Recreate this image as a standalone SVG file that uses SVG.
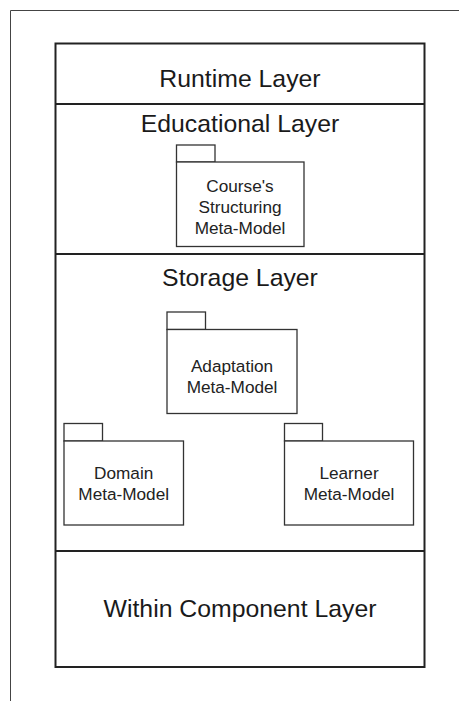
<svg xmlns="http://www.w3.org/2000/svg" width="459" height="701" viewBox="0 0 459 701">
<style>
.frame{fill:none;stroke:#444;stroke-width:1}
.layer{fill:none;stroke:#222;stroke-width:2}
.pkg{fill:#fff;stroke:#333;stroke-width:1.3}
.title{font-family:"Liberation Sans",Arial,sans-serif;font-size:24.8px;fill:#1a1a1a;text-anchor:middle}
.lbl{font-family:"Liberation Sans",Arial,sans-serif;font-size:17.2px;fill:#222;text-anchor:middle}
</style>
<rect width="459" height="701" fill="#fff"/>
<path class="frame" d="M10.5,701 V10.5 H459"/>
<g id="layers">
<rect class="layer" x="55.5" y="43.5" width="369" height="623.5"/>
<line class="layer" x1="55.5" y1="104" x2="424.5" y2="104"/>
<line class="layer" x1="55.5" y1="254" x2="424.5" y2="254"/>
<line class="layer" x1="55.5" y1="551" x2="424.5" y2="551"/>
</g>
<g id="runtime-layer"><text class="title" x="240" y="87">Runtime Layer</text></g>
<g id="educational-layer"><text class="title" x="240" y="132">Educational Layer</text></g>
<g id="storage-layer"><text class="title" x="240" y="286">Storage Layer</text></g>
<g id="within-component-layer"><text class="title" x="240" y="616.5">Within Component Layer</text></g>
<g id="course-structuring">
<rect class="pkg" x="176.5" y="145" width="38.5" height="17"/>
<rect class="pkg" x="176.5" y="162" width="127.5" height="84.5"/>
<text class="lbl" x="240" y="192">Course's</text>
<text class="lbl" x="240" y="213">Structuring</text>
<text class="lbl" x="240" y="234">Meta-Model</text>
</g>
<g id="adaptation">
<rect class="pkg" x="167" y="312" width="38.5" height="17.5"/>
<rect class="pkg" x="167" y="329.5" width="130" height="84"/>
<text class="lbl" x="232" y="372">Adaptation</text>
<text class="lbl" x="232" y="393">Meta-Model</text>
</g>
<g id="domain">
<rect class="pkg" x="64" y="423.5" width="38.5" height="17.5"/>
<rect class="pkg" x="64" y="441" width="119.5" height="84"/>
<text class="lbl" x="123.7" y="479">Domain</text>
<text class="lbl" x="123.7" y="500">Meta-Model</text>
</g>
<g id="learner">
<rect class="pkg" x="284.5" y="423.5" width="38" height="17.5"/>
<rect class="pkg" x="284.5" y="441" width="129" height="84"/>
<text class="lbl" x="349" y="479">Learner</text>
<text class="lbl" x="349" y="500">Meta-Model</text>
</g>
<g id="connectors"></g>
</svg>
